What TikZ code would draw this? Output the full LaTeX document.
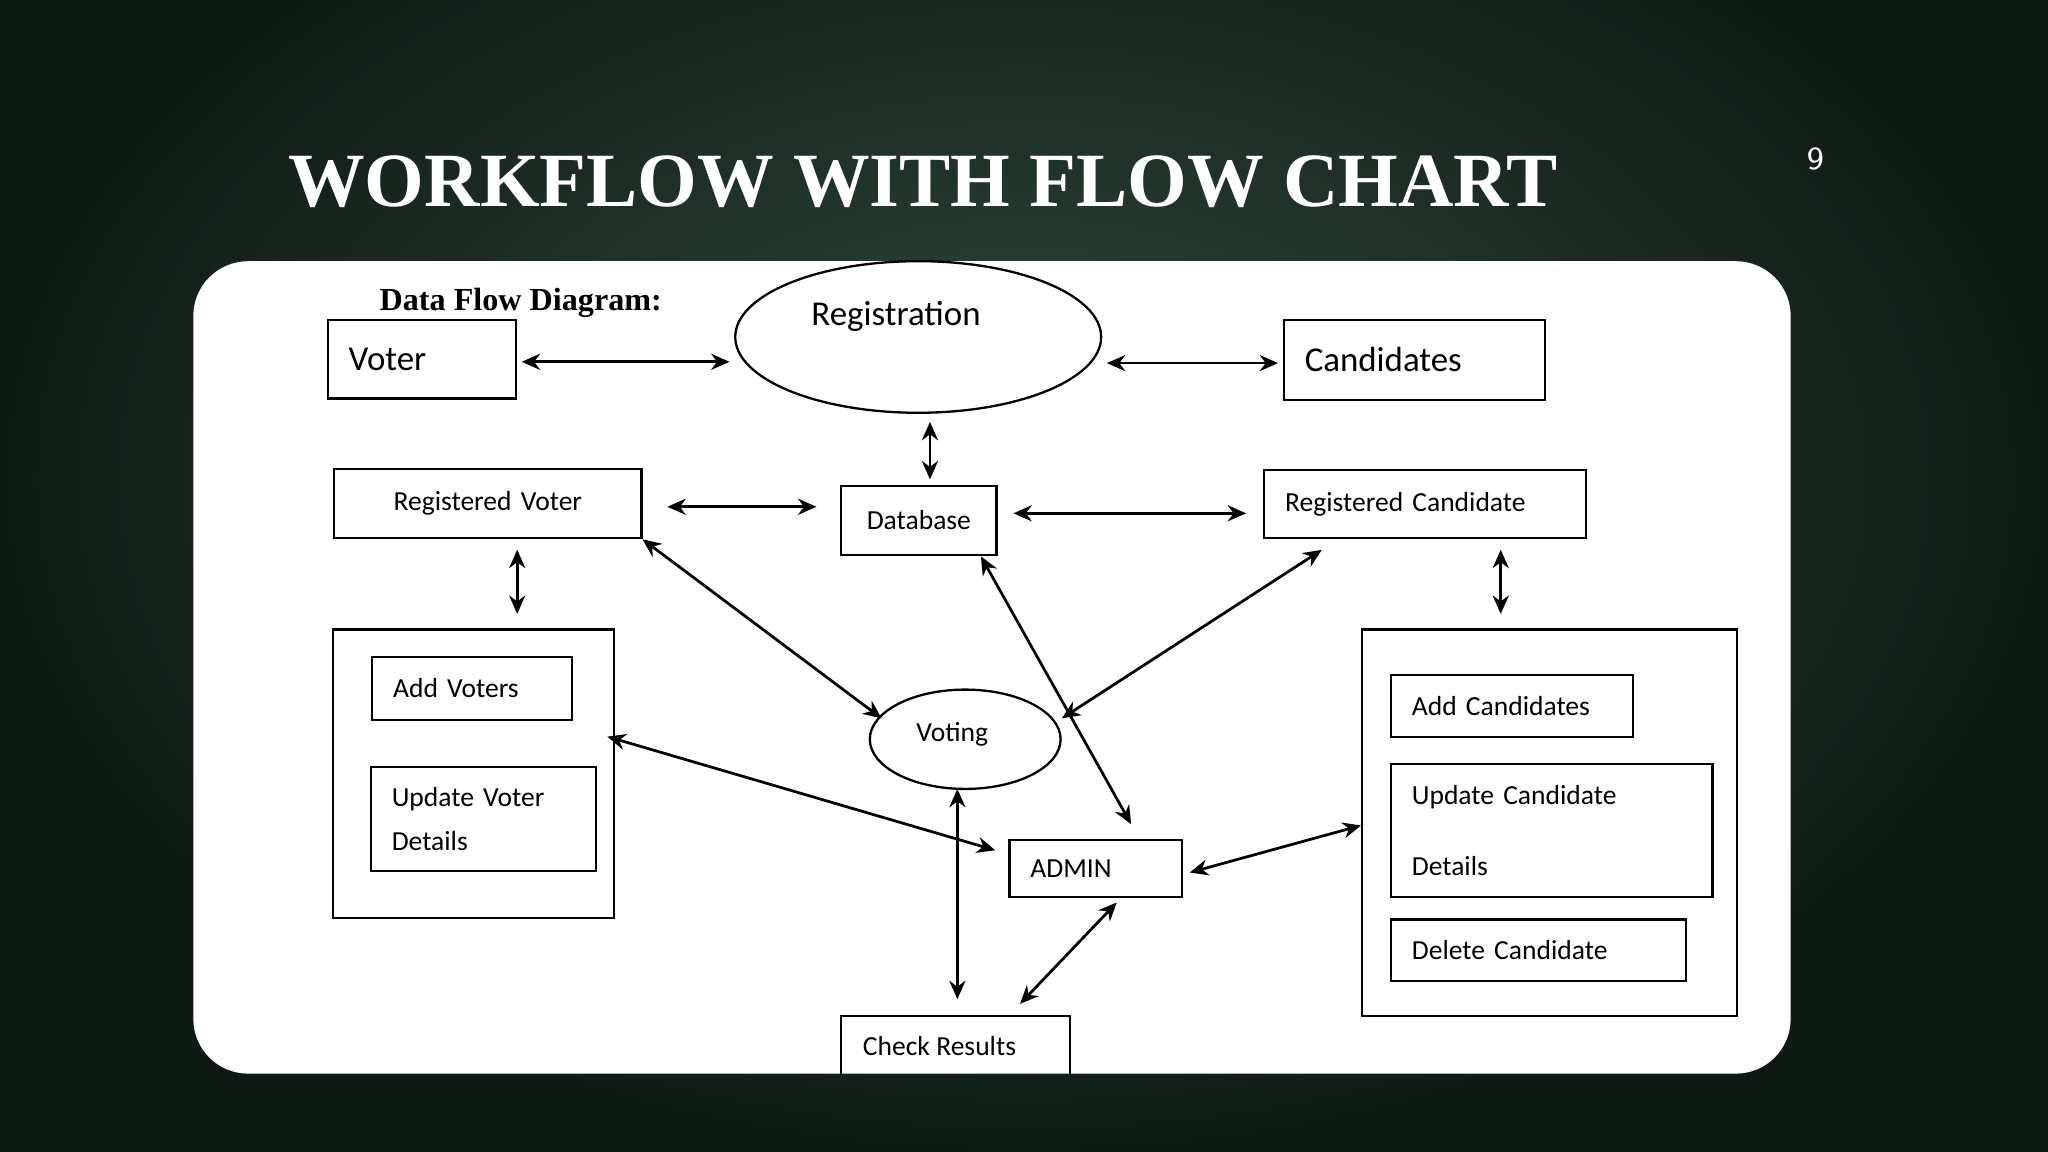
\documentclass[tikz,border=0pt]{standalone}
\usepackage{fontspec}
\setmainfont{Carlito}
\newfontfamily\ttl{Liberation Serif}
\usetikzlibrary{arrows.meta,shapes.geometric}
\definecolor{bgout}{HTML}{101A15}
\definecolor{bgin}{HTML}{2F4A3D}
\begin{document}
\begin{tikzpicture}[x=0.01cm,y=-0.01cm,
 bx/.style={draw,line width=0.5pt,inner xsep=0.16cm,align=left,font=\fontsize{6}{8}\selectfont},
 ar/.style={{Stealth[length=4pt,width=3.5pt]}-{Stealth[length=4pt,width=3.5pt]},line width=0.6pt}]
\useasboundingbox (0,0) rectangle (1568,882);
\shade[inner color=bgin,outer color=bgout] (0,-150) rectangle (1568,882);
\fill[white,rounded corners=0.42cm] (148,200) rectangle (1371,822);
\node[anchor=base west,inner sep=0,text=white,font=\ttl\bfseries\fontsize{16.7}{20}\selectfont] (title) at (220,158) {WORKFLOW WITH FLOW CHART};
\node[anchor=base,inner sep=0,text=white,font=\sffamily\fontsize{7}{8}\selectfont] (pg) at (1390,130) {9};
\node[anchor=base west,inner sep=0,font=\ttl\bfseries\fontsize{7}{8}\selectfont] (dfd) at (290,238) {Data Flow Diagram:};

\node[bx,minimum width=1.44cm,minimum height=0.60cm,text width=1.12cm,font=\fontsize{7.6}{9}\selectfont] (voter) at (323,275) {Voter};
\node[bx,minimum width=2.00cm,minimum height=0.61cm,text width=1.68cm,font=\fontsize{7.6}{9}\selectfont] (cand) at (1083,275.5) {Candidates};
\node[draw,ellipse,line width=0.5pt,minimum width=2.80cm,minimum height=1.16cm] (reg) at (703,258) {};
\node[font=\fontsize{7.6}{9}\selectfont] (regt) at (686,242) {Registration};
\node[bx,minimum width=2.35cm,minimum height=0.53cm,text width=2.03cm,align=center] (rv) at (373.5,385.5) {Registered Voter};
\node[bx,minimum width=1.19cm,minimum height=0.53cm,text width=0.87cm,align=center] (db) at (703.5,398.5) {Database};
\node[bx,minimum width=2.46cm,minimum height=0.52cm,text width=2.14cm] (rc) at (1091,386) {Registered Candidate};
\node[draw,line width=0.5pt,minimum width=2.15cm,minimum height=2.21cm] (lb) at (362.5,592.5) {};
\node[bx,minimum width=1.53cm,minimum height=0.48cm,text width=1.21cm] (av) at (361.5,527) {Add Voters};
\node[bx,minimum width=1.72cm,minimum height=0.80cm,text width=1.40cm,font=\fontsize{6}{9.5}\selectfont] (uv) at (370,627) {Update Voter\\Details};
\node[draw,ellipse,line width=0.5pt,minimum width=1.46cm,minimum height=0.76cm] (vot) at (739,566) {};
\node[font=\fontsize{6}{8}\selectfont] (vott) at (729,562) {Voting};
\node[bx,minimum width=1.32cm,minimum height=0.44cm,text width=1.00cm] (adm) at (839,665) {ADMIN};
\node[draw,line width=0.5pt,minimum width=2.87cm,minimum height=2.96cm] (rb) at (1186.5,630) {};
\node[bx,minimum width=1.85cm,minimum height=0.47cm,text width=1.53cm] (ac) at (1157.5,540.5) {Add Candidates};
\node[bx,minimum width=2.46cm,minimum height=1.02cm,text width=2.14cm,font=\fontsize{6}{15.5}\selectfont] (uc) at (1188,636) {Update Candidate\\Details};
\node[bx,minimum width=2.26cm,minimum height=0.47cm,text width=1.94cm] (dc) at (1178,727.5) {Delete Candidate};
\draw[line width=0.5pt] (644,822) -- (644,778) -- (819,778) -- (819,822);
\node[anchor=base west,inner sep=0,font=\fontsize{6}{8}\selectfont] (cr) at (660,808) {Check Results};
\coordinate (crt) at (733,778);
\coordinate (crt2) at (772,778);

\draw[ar,shorten <=1pt,shorten >=1pt] (voter.east|-0,277) -- (reg.west|-0,277);
\draw[ar,shorten <=1pt,shorten >=1pt] (reg.east|-0,278) -- (cand.west|-0,278);
\draw[ar] (712,323) -- (712,367);
\draw[ar,shorten <=0.19cm,shorten >=0.18cm] (rv.east|-0,388) -- (db.west|-0,388);
\draw[ar,shorten <=0.12cm,shorten >=0.13cm] (db.east|-0,393) -- (rc.west|-0,393);
\draw[ar,shorten <=0.08cm,shorten >=0.11cm] (rv.south-|396,0) -- (lb.north-|396,0);
\draw[ar,shorten <=0.08cm,shorten >=0.11cm] (rc.south-|1149,0) -- (rb.north-|1149,0);
\draw[ar] (rv.south east) -- (675,550);
\draw[ar] (1012,421) -- (813,550);
\draw[ar] (751,426) -- (866,631);
\draw[ar] (465,564) -- (762,651);
\draw[ar,shorten >=0.13cm] (733,604) -- (crt);
\draw[ar] (911,668) -- (rb.west|-0,632);
\draw[ar,shorten >=0.13cm] (855,691) -- (crt2);
\end{tikzpicture}
\end{document}
